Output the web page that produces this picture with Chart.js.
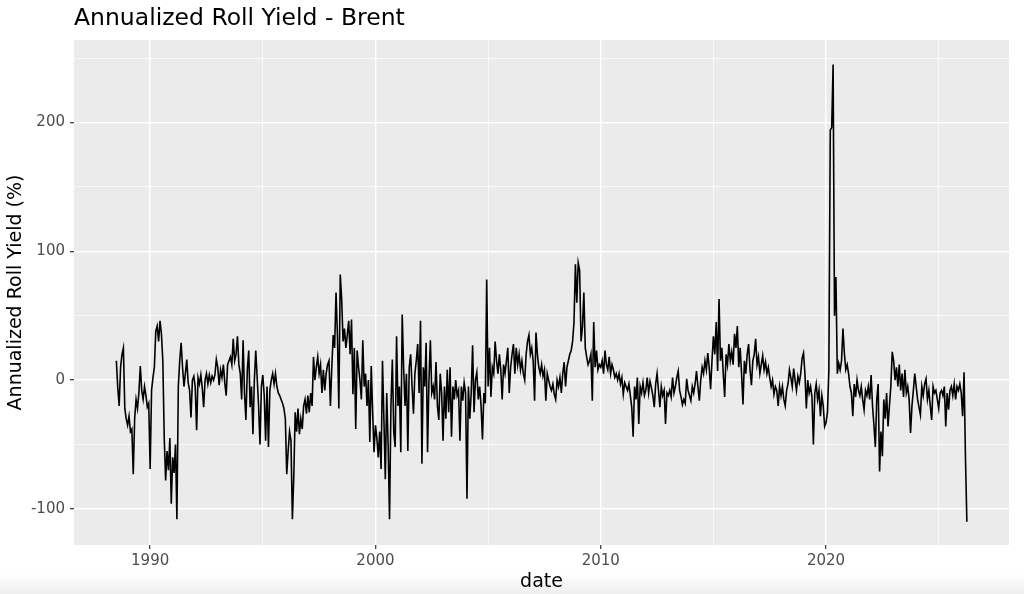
<!DOCTYPE html>
<html><head><meta charset="utf-8">
<script src="https://cdn.jsdelivr.net/npm/chart.js@4.4.1/dist/chart.umd.min.js"></script>
<style>
html,body{margin:0;padding:0;}
body{width:1024px;height:594px;overflow:hidden;background:linear-gradient(to bottom,#ffffff 0px,#ffffff 574px,#eeeeee 594px);}
canvas{display:block;}
</style></head><body>
<canvas id="c" width="1024" height="594"></canvas>
<script>
// Sampling of the series: one value every 1/16 year starting mid-1988
const startYear = 1988.5;
const stepYears = 1 / 16;

// Annualized roll yield (%)
const ry1988s = [
  15, -6, -20, 10, 20, 25, -22, -30,
  -35, -28, -40, -38, -73, -30, -15, -22, -10, 11, -8, -15, -5, -12, -21, -18
];
const ry1990s = [
  -69, -8, 2, 10, 38, 42, 30, 46, 36, 15, -45, -78, -55, -70, -45, -96,
  -60, -72, -50, -108, -5, 15, 29, 10, -5, 5, 16, -2, -8, -29, 0, 3,
  -5, -39, 2, -3, 4, -6, -21, 0, 5, -3, 4, -2, 3, 0, 4, 16,
  10, -4, 8, 2, 12, -2, -12, 12, 15, 18, 12, 32, 15, 20, 34, 12,
  5, -15, 31, -10, -31, 8, 23, -21, -5, -42, 0, 23, 2, -20, -50, -5,
  4, -12, -47, -5, -52, -8, 0, 5, -3, 5, -5, -10, -12, -15, -18, -22,
  -30, -73, -55, -40, -47, -108, -75, -25, -40, -22, -42, -30, -38, -20, -15, -26,
  -12, -25, -10, -20, 18, 0, 10, 18, 5, 12, -10, 8, -8, 5, 12, 15,
  -20, 10, 35, 25, 68, 35, -22, 82, 63, 30, 40, 25, 35, 46, 20, 47,
  -11, 25, -38, 23, 10, 0, -15, 31, -5, 5, -20, 0, -48, 11, -25, -56
];
const ry2000s = [
  -35, -45, -60, -40, -69, 15, -30, -77, -10, -50, -108, -20, 16, -40, -52, 34,
  -20, -5, -56, 51, 10, -20, 5, -55, 10, 20, -5, -26, 5, 15, 28, -10,
  46, -65, 10, -5, 29, -56, 0, 31, -10, -5, -15, 14, -20, -31, 5, -10,
  -47, -5, -30, 8, -25, 10, -44, -5, -15, 0, -12, -8, -47, -5, -16, -2,
  -10, -92, -5, -30, -10, 27, -25, 0, 6, -15, -5, -20, -46, -10, -18, 78,
  -5, 25, -13, 10, 5, 30, 15, 5, 20, 8, -15, 12, 5, 15, 25, -10,
  10, 20, 28, 5, 25, 12, 20, 8, 15, 5, 0, 20, 30, 35, 20, 25,
  15, -16, 37, 20, 10, 5, 12, 3, 8, -16, 5, 0, -5, -8, -3, -11,
  -15, 0, -5, 2, -10, 5, 14, -5, 10, 15, 20, 23, 30, 45, 90, 60,
  91, 85, 30, 41, 68, 25, 18, 12, 15, 20, -16, 45, 10, 23, 8, 12
];
const ry2010s = [
  10, 15, 5, 23, 12, 8, 18, 5, 12, 8, 2, 5, 0, 5, -3, 2,
  -11, -2, -5, -8, -3, -12, -21, -44, -5, -15, 2, -34, -5, -10, -2, -12,
  -8, 2, -10, -1, -6, -12, -21, -3, 5, -8, -21, -5, -12, -8, -34, -10,
  -12, -8, -13, 2, -10, -5, 2, 7, -8, -13, -19, -15, -18, 1, -8, -12,
  -16, -5, -10, -3, 7, -5, -16, 0, 10, 5, 15, 8, 21, 10, -7, 15,
  34, 20, 45, 7, 63, 15, 25, 5, -13, 20, 12, 28, 15, 22, 12, 36,
  25, 42, 10, 25, 5, -19, 15, 5, 20, 28, 8, -4, 15, 20, 32, 12,
  18, 5, 12, 19, 8, 14, 5, 10, 2, -5, 0, -11, -5, -8, -20, -5,
  -12, -5, -15, -20, -8, -3, 8, 2, -5, 9, 0, -8, 3, -2, 5, 17,
  21, 5, -22, 0, -10, -5, -13, -50, -10, -3, -15, -8, -28, -12, -20, -36
];
const ry2020s = [
  -33, -25, 8, 194, 196, 245, 50, 80, 5, 13, 8, 15, 40, 21, 8, 12,
  5, -5, -10, -28, -3, -13, 0, -8, -12, -5, -15, -23, -8, -12, -5, -15,
  4, -20, -35, -52, -15, -3, -71, -40, -59, -15, -30, -10, -36, -20, -5, 22,
  15, 0, 10, -5, 12, -8, 5, -13, 8, -10, -5, -15, -41, -20, -8, 5,
  -5, -15, -21, -27, -5, -12, -3, 1, -15, -8, -20, -31, -5, -10, -8, -15,
  -22, -10, -8, -12, -5, -36, -10, -23, -8, -5, -12, -3, -15, -5, -8, -3,
  -10, -28, 6, -60, -110
];

// Axis ticks
const xMajorTicks = [1990, 2000, 2010, 2020];
const xMinorGrid = [1995, 2005, 2015, 2025];
const yMajorTicks = [-100, 0, 100, 200];
const yMinorGrid = [-50, 50, 150, 250];

const values = [].concat(ry1988s, ry1990s, ry2000s, ry2010s, ry2020s);
const points = values.map((v, i) => ({ x: startYear + i * stepYears, y: v }));

Chart.defaults.font.family = "'DejaVu Sans', sans-serif";

const panelBg = {
  id: 'panelBg',
  beforeDraw(chart) {
    const { ctx, chartArea: a } = chart;
    ctx.save();
    ctx.fillStyle = '#ebebeb';
    ctx.fillRect(a.left, a.top, a.right - a.left, a.bottom - a.top);
    ctx.restore();
  }
};

function tickSet(major, minor) {
  return scale => {
    scale.ticks = major.concat(minor).sort((a, b) => a - b).map(v => ({ value: v }));
  };
}
function isMajor(list) {
  return ctx => ctx.tick && list.includes(ctx.tick.value);
}

const xm = isMajor(xMajorTicks), ym = isMajor(yMajorTicks);

new Chart(document.getElementById('c'), {
  type: 'line',
  data: {
    datasets: [{
      data: points,
      borderColor: '#000000',
      borderWidth: 1.6,
      pointRadius: 0,
      tension: 0,
      fill: false
    }]
  },
  options: {
    responsive: false,
    animation: false,
    events: [],
    layout: { padding: { left: 0, right: 15, top: 0, bottom: 0 } },
    plugins: {
      legend: { display: false },
      tooltip: { enabled: false },
      title: {
        display: true,
        text: 'Annualized Roll Yield - Brent',
        align: 'start',
        fullSize: false,
        color: '#000000',
        font: { size: 23.5, weight: 'normal' },
        padding: { top: 5, bottom: 6.8 }
      }
    },
    scales: {
      x: {
        type: 'linear',
        min: 1986.62,
        max: 2028.12,
        afterBuildTicks: tickSet(xMajorTicks, xMinorGrid),
        afterFit: s => { s.height = 49; },
        border: { display: false },
        grid: {
          color: '#ffffff',
          lineWidth: ctx => xm(ctx) ? 1.4 : 0.7,
          drawTicks: true,
          tickLength: 4,
          tickWidth: 1.2,
          tickColor: ctx => xm(ctx) ? '#333333' : 'rgba(0,0,0,0)'
        },
        ticks: {
          autoSkip: false,
          maxRotation: 0,
          color: '#4d4d4d',
          font: { size: 15 },
          padding: 3,
          callback: v => xMajorTicks.includes(v) ? String(v) : ''
        },
        title: {
          display: true,
          text: 'date',
          color: '#000000',
          font: { size: 19 },
          padding: { top: 0, bottom: 1 }
        }
      },
      y: {
        type: 'linear',
        min: -128,
        max: 264,
        afterBuildTicks: tickSet(yMajorTicks, yMinorGrid),
        afterFit: s => { s.width = 74; },
        border: { display: false },
        grid: {
          color: '#ffffff',
          lineWidth: ctx => ym(ctx) ? 1.4 : 0.7,
          drawTicks: true,
          tickLength: 4,
          tickWidth: 1.2,
          tickColor: ctx => ym(ctx) ? '#333333' : 'rgba(0,0,0,0)'
        },
        ticks: {
          autoSkip: false,
          color: '#4d4d4d',
          font: { size: 15 },
          padding: 5,
          callback: v => yMajorTicks.includes(v) ? String(v) : ''
        },
        title: {
          display: true,
          text: 'Annualized Roll Yield (%)',
          color: '#000000',
          font: { size: 19 },
          padding: { top: 5, bottom: 0 }
        }
      }
    }
  },
  plugins: [panelBg]
});
</script>
</body></html>
